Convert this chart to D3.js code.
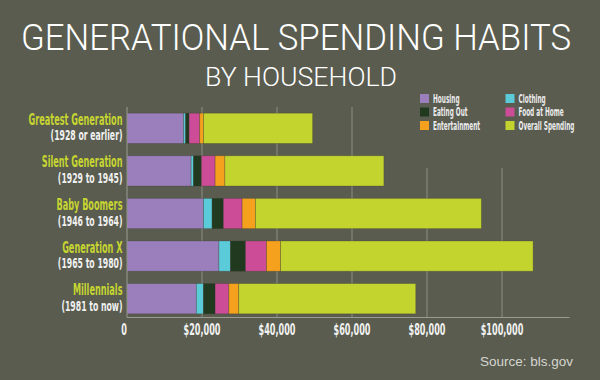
<!DOCTYPE html>
<html>
<head>
<meta charset="utf-8">
<script src="https://cdn.jsdelivr.net/npm/d3@7"></script>
<style>
  body { margin: 0; background: #595c4f; }
  svg { display: block; }
</style>
</head>
<body>
<svg id="chart"></svg>
<script>
/* Data */
var generations = ["Greatest Generation", "Silent Generation", "Baby Boomers", "Generation X", "Millennials"];
var yearRanges = ["(1928 or earlier)", "(1929 to 1945)", "(1946 to 1964)", "(1965 to 1980)", "(1981 to now)"];
var seriesNames = ["Housing", "Clothing", "Eating Out", "Food at Home", "Entertainment", "Overall Spending"];
var housing = [15100, 17100, 20400, 24500, 18500];
var clothing = [550, 650, 2300, 3100, 1900];
var eatingOut = [900, 2100, 3000, 4000, 3100];
var foodAtHome = [2850, 3650, 5000, 5600, 3650];
var entertainment = [1000, 2600, 3550, 3750, 2650];
var overallSpending = [49500, 68500, 94500, 108300, 77000];
var tickValues = [0, 20000, 40000, 60000, 80000, 100000];

var colors = ["#9b7fbd", "#5ccbd9", "#213a1f", "#cc4c98", "#f5a11e", "#c4d42e"];
var condensed = "'DejaVu Sans Condensed', 'Liberation Sans Narrow', sans-serif";

/* Init main svg */
var svg = d3.select('#chart')
    .attr('width', 600)
    .attr('height', 380)
    .style('background', '#595c4f');

/* how much to squeeze a condensed label so it gets the width seen in the picture */
function squeezeFor(sample, size, target) {
    var t = svg.append('text')
        .attr('font-family', condensed)
        .attr('font-weight', 'bold')
        .attr('font-size', size)
        .text(sample);
    var w = t.node().getComputedTextLength();
    t.remove();
    return target / w;
}

var rows = generations.map(function(g, i) {
    var parts = [housing[i], clothing[i], eatingOut[i], foodAtHome[i], entertainment[i]];
    var used = d3.sum(parts);
    parts.push(overallSpending[i] - used);   // rest of the overall bar
    var row = { name: g };
    seriesNames.forEach(function(s, j) { row[s] = parts[j]; });
    return row;
});

var x = d3.scaleLinear().domain([0, 118000]).range([127, 569.5]);
var y = d3.scaleBand().domain(generations).range([107, 320])
    .paddingInner(0.29).paddingOuter(0.145);

/* Title */
svg.append('text')
    .attr('x', 296).attr('y', 50)
    .attr('text-anchor', 'middle')
    .attr('font-family', "Roboto, 'Liberation Sans', sans-serif")
    .attr('font-weight', 300)
    .attr('font-size', 36)
    .attr('textLength', 550)
    .attr('lengthAdjust', 'spacingAndGlyphs')
    .attr('fill', '#ffffff')
    .text('GENERATIONAL SPENDING HABITS');

svg.append('text')
    .attr('x', 301).attr('y', 86)
    .attr('text-anchor', 'middle')
    .attr('font-family', "Roboto, 'Liberation Sans', sans-serif")
    .attr('font-weight', 300)
    .attr('font-size', 25.5)
    .attr('textLength', 192)
    .attr('lengthAdjust', 'spacingAndGlyphs')
    .attr('fill', '#ffffff')
    .text('BY HOUSEHOLD');

/* Grid */
svg.append('g')
    .selectAll('line')
    .data(tickValues.slice(1))
    .enter()
    .append('line')
    .attr('x1', d => x(d)).attr('x2', d => x(d))
    .attr('y1', 107).attr('y2', 317)
    .attr('stroke', '#8c8e84')
    .attr('stroke-width', 1);

/* Legend box covers the grid behind it */
var legend = svg.append('g');
legend.append('rect')
    .attr('x', 405).attr('y', 86).attr('width', 195).attr('height', 82)
    .attr('fill', '#595c4f');

/* Bars */
var stack = d3.stack().keys(seriesNames)(rows);
svg.append('g')
    .selectAll('g')
    .data(stack)
    .enter()
    .append('g')
    .attr('fill', (d, i) => colors[i])
    .selectAll('rect')
    .data(d => d)
    .enter()
    .append('rect')
    .attr('x', d => x(d[0]))
    .attr('y', d => y(d.data.name))
    .attr('width', d => x(d[1]) - x(d[0]))
    .attr('height', y.bandwidth())
    .attr('stroke', 'rgba(60,60,50,0.35)')
    .attr('stroke-width', 0.8);

/* Axes lines */
svg.append('line')
    .attr('x1', 127).attr('x2', 127).attr('y1', 107).attr('y2', 317.5)
    .attr('stroke', '#9a9c92');
svg.append('line')
    .attr('x1', 127).attr('x2', 569.5).attr('y1', 317.5).attr('y2', 317.5)
    .attr('stroke', '#9a9c92');

/* X tick labels */
var tickSqueeze = squeezeFor('$20,000', 15, 37);
var xAxis = d3.axisBottom(x)
    .tickValues(tickValues)
    .tickSize(0)
    .tickPadding(0)
    .tickFormat(d => d === 0 ? '0' : '$' + d3.format(',')(d));
var gx = svg.append('g')
    .attr('transform', 'translate(0,324)')
    .call(xAxis);
gx.select('.domain').remove();
gx.selectAll('text')
    .attr('font-family', condensed)
    .attr('font-weight', 'bold')
    .attr('font-size', 15)
    .attr('fill', '#f2f2f2')
    .attr('dy', '0.72em')
    .attr('transform', 'scale(' + tickSqueeze + ',1)');
gx.selectAll('.tick')
    .attr('transform', d => 'translate(' + (d === 0 ? x(d) - 3 : x(d)) + ',0)');

/* Category labels */
var nameSqueeze = squeezeFor('Greatest Generation', 16, 94);
var yearSqueeze = squeezeFor('(1928 or earlier)', 13.5, 72);
var labels = svg.append('g')
    .selectAll('g')
    .data(generations)
    .enter()
    .append('g')
    .attr('transform', d => 'translate(122.5,' + (y(d) + y.bandwidth() / 2) + ')');
labels.append('text')
    .attr('y', -3.5)
    .attr('text-anchor', 'end')
    .attr('font-family', condensed)
    .attr('font-weight', 'bold')
    .attr('font-size', 16)
    .attr('fill', '#c6d531')
    .attr('transform', 'scale(' + nameSqueeze + ',1)')
    .text(d => d);
labels.append('text')
    .attr('y', 12)
    .attr('text-anchor', 'end')
    .attr('font-family', condensed)
    .attr('font-weight', 'bold')
    .attr('font-size', 13.5)
    .attr('fill', '#f0f0f0')
    .attr('transform', 'scale(' + yearSqueeze + ',1)')
    .text((d, i) => yearRanges[i]);

/* Legend */
var legendSqueeze = squeezeFor('Overall Spending', 11.5, 56);
var items = legend.selectAll('g.item')
    .data(seriesNames)
    .enter()
    .append('g')
    .attr('class', 'item')
    .attr('transform', (d, i) => 'translate(' + (i % 2 === 0 ? 420 : 505.5) + ',' + (94 + Math.floor(i / 2) * 13.5) + ')');
items.append('rect')
    .attr('width', 9).attr('height', 9)
    .attr('fill', (d, i) => colors[i]);
items.append('text')
    .attr('y', 8.5)
    .attr('font-family', condensed)
    .attr('font-weight', 'bold')
    .attr('font-size', 11.5)
    .attr('fill', '#ebebeb')
    .attr('transform', 'translate(13,0) scale(' + legendSqueeze + ',1)')
    .text(d => d);

/* Source */
svg.append('text')
    .attr('x', 573).attr('y', 365.5)
    .attr('text-anchor', 'end')
    .attr('font-family', "'Liberation Sans', Arial, sans-serif")
    .attr('font-size', 13.5)
    .attr('fill', '#d6d6d0')
    .text('Source: bls.gov');
</script>
</body>
</html>
